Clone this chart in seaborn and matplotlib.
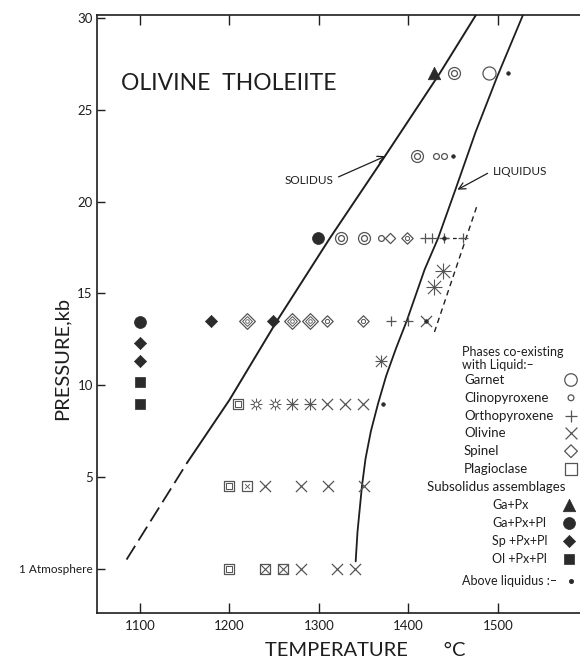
import matplotlib
matplotlib.use("Agg")
import matplotlib.pyplot as plt
import seaborn as sns

# ── Data (temperature °C, pressure kb) ────────────────────────────────────
solidus_dash_T = [1085, 1153]
solidus_dash_P = [0.5, 5.8]
solidus_T = [1153, 1200, 1253, 1312, 1374, 1435, 1477]
solidus_P = [5.8, 9.2, 13.5, 18.0, 22.5, 27.0, 30.3]
liquidus_T = [1341, 1343, 1348, 1352, 1358, 1366, 1375, 1386, 1398, 1418,
              1433, 1452, 1475, 1499, 1529]
liquidus_P = [0.4, 2.0, 4.5, 6.0, 7.5, 9.0, 10.5, 12.0, 13.5, 16.3,
              18.0, 20.6, 23.8, 26.8, 30.3]
opx_dash_T = [1476, 1429]
opx_dash_P = [19.7, 12.9]
row18_dash_T = [1441, 1461]
row18_dash_P = [18.0, 18.0]

garnet_T, garnet_P = [1490], [27.0]
dcircle_T = [1451, 1409, 1325, 1350]
dcircle_P = [27.0, 22.5, 18.0, 18.0]
cpx_T = [1431, 1440, 1369]
cpx_P = [22.5, 22.5, 18.0]
opx_T = [1418, 1426, 1440, 1461, 1380, 1400]
opx_P = [18.0, 18.0, 18.0, 18.0, 13.5, 13.5]
ol_T = [1420, 1309, 1329, 1349, 1240, 1280, 1310, 1350, 1280, 1320, 1340]
ol_P = [13.5, 9.0, 9.0, 9.0, 4.5, 4.5, 4.5, 4.5, 0.0, 0.0, 0.0]
sp_T, sp_P = [1379], [18.0]
sp_cpx_T = [1398, 1309, 1349]
sp_cpx_P = [18.0, 13.5, 13.5]
dsp_T = [1220, 1270, 1290]
dsp_P = [13.5, 13.5, 13.5]
aster_T = [1439, 1428, 1369, 1270, 1290]
aster_P = [16.2, 15.35, 11.3, 9.0, 9.0]
aster_big = [True, True, False, False, False]
starcirc_T = [1230, 1251]
starcirc_P = [9.0, 9.0]
dsquare_T = [1210, 1200, 1200]
dsquare_P = [9.0, 4.5, 0.0]
sqdot_T, sqdot_P = [1220], [4.5]
sqx_T = [1240, 1260]
sqx_P = [0.0, 0.0]
above_T = [1511, 1450, 1440, 1372, 1420]
above_P = [27.0, 22.5, 18.0, 9.0, 13.5]

ga_px_T, ga_px_P = [1428], [27.0]
ga_px_pl_T = [1299, 1100]
ga_px_pl_P = [18.0, 13.45]
sp_px_pl_T = [1179, 1249, 1100, 1100]
sp_px_pl_P = [13.5, 13.5, 12.3, 11.3]
ol_px_pl_T = [1100, 1100]
ol_px_pl_P = [10.2, 9.0]

x_ticks = [1100, 1200, 1300, 1400, 1500]
y_ticks = [0, 5, 10, 15, 20, 25, 30]
y_ticklabels = ["1 Atmosphere", "5", "10", "15", "20", "25", "30"]

phase_names = ["Garnet", "Clinopyroxene", "Orthopyroxene", "Olivine", "Spinel", "Plagioclase"]
subsolidus_names = ["Ga+Px", "Ga+Px+Pl", "Sp +Px+Pl", "Ol +Px+Pl"]

# ── Style ─────────────────────────────────────────────────────────────────
INK = "#1e1e1e"
GREY = "#555555"
DARK = "#2b2b2b"

sns.set_theme(style="white")
plt.rcParams["font.family"] = ["Lato", "DejaVu Sans"]

W, H = 580, 659
L, R, T, B = 97, 580, 15, 613

fig = plt.figure(figsize=(W / 100, H / 100), dpi=100)
ax = fig.add_axes([L / W, (H - B) / H, (R - L) / W, (B - T) / H])


def frac(px, py):
    return (px - L) / (R - L), (B - py) / (B - T)


def pts(xs, ys, marker, ms, filled=False, lw=0.9, color=GREY, **kw):
    if filled:
        sns.scatterplot(x=xs, y=ys, marker=marker, s=ms ** 2, color=color,
                        edgecolor=color, linewidth=0.5, ax=ax, legend=False,
                        zorder=4, **kw)
    elif marker in ("x", "+"):
        sns.scatterplot(x=xs, y=ys, marker=marker, s=ms ** 2, color=color,
                        linewidth=lw, ax=ax, legend=False, zorder=4, **kw)
    else:
        sns.scatterplot(x=xs, y=ys, marker=marker, s=ms ** 2, color=color,
                        facecolor="white", edgecolor=color, linewidth=lw,
                        ax=ax, legend=False, zorder=4, **kw)


def line(xs, ys, lw=1.4, ls="-"):
    sns.lineplot(x=xs, y=ys, sort=False, estimator=None, color=INK,
                 linewidth=lw, linestyle=ls, ax=ax, zorder=2)


# ── Curves ────────────────────────────────────────────────────────────────
line(solidus_dash_T, solidus_dash_P, lw=1.3, ls=(0, (9, 3.5)))
line(solidus_T, solidus_P, lw=1.4)
line(liquidus_T, liquidus_P, lw=1.3)
line(opx_dash_T, opx_dash_P, lw=1.0, ls=(0, (4, 3)))
line(row18_dash_T, row18_dash_P, lw=0.9, ls=(0, (3, 3)))

# ── Run symbols ───────────────────────────────────────────────────────────
pts(garnet_T, garnet_P, "o", 9.4)
pts(dcircle_T, dcircle_P, "o", 8.6)
pts(dcircle_T, dcircle_P, "o", 4.3)
pts(cpx_T, cpx_P, "o", 4.2)
pts(opx_T, opx_P, "+", 7.5)
pts(ol_T, ol_P, "x", 8.0)
pts(sp_T, sp_P, "D", 5.2)
pts(sp_cpx_T, sp_cpx_P, "D", 5.8)
pts(sp_cpx_T, sp_cpx_P, "o", 3.0, lw=0.7)
pts(dsp_T, dsp_P, "D", 8.0)
pts(dsp_T, dsp_P, "D", 5.0, lw=0.7)
pts(dsp_T, dsp_P, "o", 2.6, lw=0.6)
big = [i for i, b in enumerate(aster_big) if b]
small = [i for i, b in enumerate(aster_big) if not b]
for idx, ms in ((big, 9.5), (small, 8.0)):
    xs = [aster_T[i] for i in idx]
    ys = [aster_P[i] for i in idx]
    pts(xs, ys, "x", ms, lw=0.8)
    pts(xs, ys, "+", ms * 1.15, lw=0.8)
pts(starcirc_T, starcirc_P, "x", 7.0, lw=0.7)
pts(starcirc_T, starcirc_P, "+", 8.0, lw=0.7)
pts(starcirc_T, starcirc_P, "o", 3.6, lw=0.7)
pts(dsquare_T, dsquare_P, "s", 7.6)
pts(dsquare_T, dsquare_P, "s", 4.2, lw=0.7)
pts(sqdot_T, sqdot_P, "s", 7.6)
pts(sqdot_T, sqdot_P, "x", 3.5, lw=0.6)
pts(sqx_T, sqx_P, "s", 7.6)
pts(sqx_T, sqx_P, "x", 7.6, lw=0.8)
pts(above_T, above_P, "o", 2.6, filled=True, color=DARK)

pts(ga_px_T, ga_px_P, "^", 9.0, filled=True, color=DARK)
pts(ga_px_pl_T, ga_px_pl_P, "o", 8.6, filled=True, color=DARK)
pts(sp_px_pl_T, sp_px_pl_P, "D", 6.2, filled=True, color=DARK)
pts(ol_px_pl_T, ol_px_pl_P, "s", 7.6, filled=True, color=DARK)

# ── Axes ──────────────────────────────────────────────────────────────────
ax.set_xlim(1052, 1591.6)
ax.set_ylim(-2.41, 30.17)
ax.set_xticks(x_ticks)
ax.set_xticklabels([str(t) for t in x_ticks], fontsize=9.5, color=INK)
ax.set_yticks(y_ticks)
ax.set_yticklabels(y_ticklabels, fontsize=9.5, color=INK)
ax.get_yticklabels()[0].set_fontsize(8.5)
ax.tick_params(axis="x", direction="in", length=7, width=1, top=True,
               bottom=True, color=INK, pad=5)
ax.tick_params(axis="y", direction="in", length=6, width=1, left=True,
               color=INK, pad=3)
for side in ("left", "bottom", "top"):
    ax.spines[side].set_color(INK)
    ax.spines[side].set_linewidth(1.2)
ax.spines["right"].set_visible(False)
ax.set_xlabel("")
ax.set_ylabel("")

fig.text(365 / W, 1 - 650 / H, "TEMPERATURE       °C", fontsize=14.5,
         ha="center", va="center", color=INK)
fig.text(62 / W, 1 - 358 / H, "PRESSURE,kb", fontsize=14.5, rotation=90,
         ha="center", va="center", color=INK)

# ── Labels on the diagram ─────────────────────────────────────────────────
ax.text(*frac(121, 83), "OLIVINE  THOLEIITE", transform=ax.transAxes,
        fontsize=16.5, ha="left", va="center", color=INK)
ax.text(*frac(333, 180), "SOLIDUS", transform=ax.transAxes, fontsize=8.5,
        ha="right", va="center", color=INK)
ax.annotate("", xy=frac(388, 155), xytext=frac(336, 178),
            xycoords="axes fraction", textcoords="axes fraction",
            arrowprops=dict(arrowstyle="->", color=INK, lw=0.9))
ax.text(*frac(493, 171), "LIQUIDUS", transform=ax.transAxes, fontsize=8.5,
        ha="left", va="center", color=INK)
ax.annotate("", xy=frac(455, 191), xytext=frac(490, 172),
            xycoords="axes fraction", textcoords="axes fraction",
            arrowprops=dict(arrowstyle="->", color=INK, lw=0.9))

# ── Key ───────────────────────────────────────────────────────────────────
ax.text(*frac(462, 352), "Phases co-existing", transform=ax.transAxes,
        fontsize=9, ha="left", va="center", color=INK)
ax.text(*frac(462, 365), "with Liquid:\u2013", transform=ax.transAxes,
        fontsize=9, ha="left", va="center", color=INK)
phase_marks = [("o", 9.0), ("o", 4.2), ("+", 8.5), ("x", 8.5), ("D", 6.5), ("s", 8.0)]
for i, (name, (mk, ms)) in enumerate(zip(phase_names, phase_marks)):
    py = 380 + i * 17.8
    ax.text(*frac(464, py), name, transform=ax.transAxes, fontsize=9.5,
            ha="left", va="center", color=INK)
    mx, my = frac(571, py)
    face = "none" if mk not in ("x", "+") else GREY
    ax.scatter([mx], [my], marker=mk, s=ms ** 2, transform=ax.transAxes,
               facecolor=face, edgecolor=GREY, linewidth=0.9, clip_on=False,
               zorder=5)
ax.text(*frac(427, 487), "Subsolidus assemblages", transform=ax.transAxes,
        fontsize=9.5, ha="left", va="center", color=INK)
sub_marks = [("^", 9.0), ("o", 8.6), ("D", 6.2), ("s", 7.6)]
for i, (name, (mk, ms)) in enumerate(zip(subsolidus_names, sub_marks)):
    py = 505 + i * 18
    ax.text(*frac(492, py), name, transform=ax.transAxes, fontsize=9,
            ha="left", va="center", color=INK)
    mx, my = frac(569, py)
    ax.scatter([mx], [my], marker=mk, s=ms ** 2, transform=ax.transAxes,
               color=DARK, linewidth=0.5, clip_on=False, zorder=5)
ax.text(*frac(462, 581), "Above liquidus :\u2013", transform=ax.transAxes,
        fontsize=9, ha="left", va="center", color=INK)
mx, my = frac(571, 581)
ax.scatter([mx], [my], marker="o", s=2.6 ** 2, transform=ax.transAxes,
           color=DARK, clip_on=False, zorder=5)

fig.savefig("out.png", dpi=100)
